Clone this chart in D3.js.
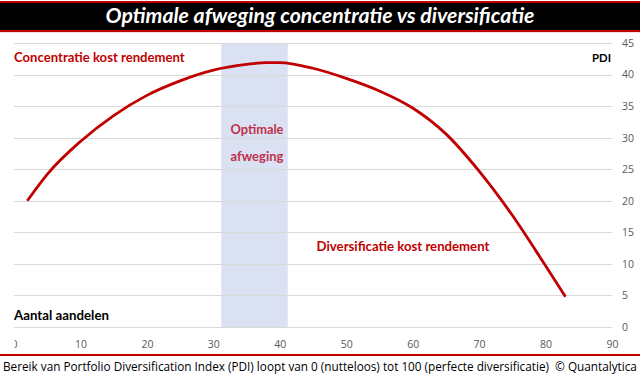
<!DOCTYPE html>
<html>
<head>
<meta charset="utf-8">
<script src="https://cdn.jsdelivr.net/npm/d3@7"></script>
<style>
  body { margin: 0; background: #fff; }
  svg { display: block; }
</style>
</head>
<body>
<div id="chart"></div>
<script>
// aantal aandelen -> PDI
var aandelen = [2, 5, 10, 15, 20, 25, 30, 35, 38, 40, 45, 50, 55, 60, 65, 70, 75, 80, 83];
var pdi = [20, 24.2, 29.4, 33.5, 36.7, 39.0, 40.7, 41.6, 41.9, 41.9, 41.0, 39.4, 37.4, 34.7, 30.6, 24.7, 17.7, 9.7, 4.8];
var xTicks = [0, 10, 20, 30, 40, 50, 60, 70, 80, 90];
var yTicks = [0, 5, 10, 15, 20, 25, 30, 35, 40, 45];
var optimaal = [31.2, 41.2];

var width = 640, height = 375;
var rood = "#c00000";

var svg = d3.select("#chart").append("svg")
    .attr("width", width)
    .attr("height", height)
    .style("font-family", "Lato, sans-serif");

// schaalt de lettergrootte zodat de tekst ongeveer de breedte uit het origineel krijgt
function fit(sel, target) {
    var size = parseFloat(sel.style("font-size"));
    var w = sel.node().getComputedTextLength();
    if (w > 0) sel.style("font-size", (size * target / w) + "px");
    return sel;
}

// titelbalk
svg.append("rect").attr("x", 0).attr("y", 1).attr("width", width).attr("height", 31).attr("fill", rood);
svg.append("rect").attr("x", 0).attr("y", 3).attr("width", width).attr("height", 27).attr("fill", "#000");
svg.append("line").attr("x1", 0).attr("x2", width).attr("y1", 32.5).attr("y2", 32.5)
    .attr("stroke", "#f6dcdc").attr("stroke-width", 1);
var titel = svg.append("text")
    .attr("x", 320).attr("y", 23)
    .attr("text-anchor", "middle")
    .style("font-size", "20px")
    .style("font-weight", "bold")
    .style("font-style", "italic")
    .style("fill", "#fff")
    .text("Optimale afweging concentratie vs diversificatie");
fit(titel, 429);

var xScale = d3.scaleLinear().domain([0, 90]).range([14, 612]);
var yScale = d3.scaleLinear().domain([0, 45]).range([327, 43]);

// optimale zone
svg.append("rect")
    .attr("x", xScale(optimaal[0]))
    .attr("y", yScale(45))
    .attr("width", xScale(optimaal[1]) - xScale(optimaal[0]))
    .attr("height", yScale(0) - yScale(45))
    .attr("fill", "#d9e1f2");

// rasterlijnen
svg.append("g").selectAll("line")
    .data(yTicks)
    .enter()
    .append("line")
    .attr("x1", xScale(0)).attr("x2", xScale(90))
    .attr("y1", d => Math.round(yScale(d)) + 0.5)
    .attr("y2", d => Math.round(yScale(d)) + 0.5)
    .attr("stroke", "#d9d9d9")
    .attr("stroke-width", 1);

// assen
svg.append("defs").append("clipPath").attr("id", "xclip")
    .append("rect").attr("x", 14.5).attr("y", 0).attr("width", 620).attr("height", 40);

var xAxis = svg.append("g")
    .attr("transform", "translate(0,327)")
    .attr("clip-path", "url(#xclip)")
    .call(d3.axisBottom(xScale).tickValues(xTicks).tickSize(0).tickPadding(14));
var yAxis = svg.append("g")
    .attr("transform", "translate(612,0)")
    .call(d3.axisRight(yScale).tickValues(yTicks).tickSize(0).tickPadding(10));

[xAxis, yAxis].forEach(function(a) {
    a.select(".domain").remove();
    a.selectAll("text")
        .style("font-family", "'Open Sans', sans-serif")
        .style("font-size", "10.5px")
        .style("fill", "#595959");
});

// lijn
var line = d3.line()
    .x((d, i) => xScale(aandelen[i]))
    .y(d => yScale(d))
    .curve(d3.curveMonotoneX);

svg.append("path")
    .datum(pdi)
    .attr("d", line)
    .attr("fill", "none")
    .attr("stroke", rood)
    .attr("stroke-width", 2.8);

// labels
function label(x, y, txt, opts) {
    var t = svg.append("text")
        .attr("x", x).attr("y", y)
        .attr("text-anchor", opts.anchor || "start")
        .style("font-size", (opts.size || 13) + "px")
        .style("font-weight", opts.weight || "bold")
        .style("fill", opts.color || "#000")
        .text(txt);
    if (opts.w) fit(t, opts.w);
    return t;
}

label(14, 62, "Concentratie kost rendement", {color: rood, w: 171});
label(611, 62, "PDI", {anchor: "end", w: 19});
label(257, 134, "Optimale", {anchor: "middle", color: "#c0304a", w: 53});
label(257, 161, "afweging", {anchor: "middle", color: "#c0304a"});
label(403, 251, "Diversificatie kost rendement", {anchor: "middle", color: rood, w: 173});
label(14, 320, "Aantal aandelen", {w: 95});

// voettekst
svg.append("rect").attr("x", 0).attr("y", 354).attr("width", width).attr("height", 2).attr("fill", rood);
var voet = label(3, 371, "Bereik van Portfolio Diversification Index (PDI) loopt van 0 (nutteloos) tot 100 (perfecte diversificatie)  \u00a9 Quantalytica",
    {weight: "normal", size: 12});
voet.style("font-family", "'Open Sans', sans-serif").style("white-space", "pre");
fit(voet, 634);
</script>
</body>
</html>
